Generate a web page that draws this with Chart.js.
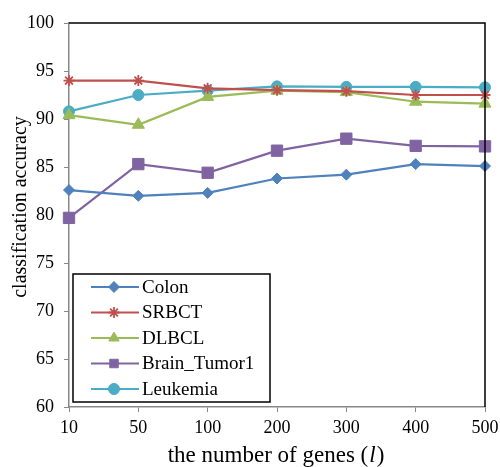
<!DOCTYPE html>
<html>
<head>
<meta charset="utf-8">
<script src="https://cdn.jsdelivr.net/npm/chart.js@4"></script>
<style>
  body { margin: 0; background: #fff; }
  #wrap { width: 500px; height: 467px; }
</style>
</head>
<body>
<div id="wrap"><canvas id="myChart" width="500" height="467"></canvas></div>
<script>
// data
const geneCounts = ['10', '50', '100', '200', '300', '400', '500'];
const seriesNames = ['Colon', 'SRBCT', 'DLBCL', 'Brain_Tumor1', 'Leukemia'];
const colon = [82.6, 82.0, 82.3, 83.8, 84.2, 85.3, 85.1];
const srbct = [94.0, 94.0, 93.2, 93.0, 92.9, 92.5, 92.5];
const dlbcl = [90.4, 89.4, 92.3, 92.95, 92.8, 91.8, 91.6];
const brainTumor1 = [79.7, 85.3, 84.4, 86.7, 87.95, 87.2, 87.15];
const leukemia = [90.8, 92.5, 92.95, 93.4, 93.35, 93.35, 93.3];
const yTicks = [60, 65, 70, 75, 80, 85, 90, 95, 100];

const colors = ['#4F81BD', '#C0504D', '#9BBB59', '#8064A2', '#4BACC6'];
const markers = ['rectRot', 'star', 'triangle', 'rect', 'circle'];
const radii = [5.5, 5.5, 7, 8, 5.5];
const allValues = [colon, srbct, dlbcl, brainTumor1, leukemia];

const serif = '"Liberation Serif", "Times New Roman", serif';

const datasets = seriesNames.map((name, i) => ({
  label: name,
  data: allValues[i],
  borderColor: colors[i],
  backgroundColor: colors[i],
  borderWidth: 2.2,
  pointStyle: markers[i],
  pointRadius: radii[i],
  pointBorderWidth: i === 1 ? 1.8 : 1,
  pointBorderColor: colors[i],
  pointBackgroundColor: colors[i],
  tension: 0
}));

// frame, axis titles and the boxed legend
const extras = {
  id: 'extras',
  afterDraw(chart) {
    const ctx = chart.ctx;
    const a = chart.chartArea;
    ctx.save();
    // black top and right border
    ctx.strokeStyle = '#000';
    ctx.lineWidth = 1.5;
    ctx.beginPath();
    ctx.moveTo(a.left, a.top);
    ctx.lineTo(a.right, a.top);
    ctx.lineTo(a.right, a.bottom);
    ctx.stroke();

    // y title
    ctx.fillStyle = '#000';
    ctx.font = '20px ' + serif;
    ctx.textAlign = 'center';
    ctx.textBaseline = 'middle';
    ctx.save();
    ctx.translate(21, 207);
    ctx.rotate(-Math.PI / 2);
    ctx.fillText('classification accuracy', 0, 0);
    ctx.restore();

    // x title with italic l
    const p1 = 'the number of genes (';
    const p2 = 'l';
    const p3 = ')';
    const fs = '23px ';
    ctx.font = fs + serif;
    const w1 = ctx.measureText(p1).width;
    const w3 = ctx.measureText(p3).width;
    ctx.font = 'italic ' + fs + serif;
    const w2 = ctx.measureText(p2).width;
    let x = 276 - (w1 + w2 + w3 + 2) / 2;
    const y = 456;
    ctx.textAlign = 'left';
    ctx.font = fs + serif;
    ctx.fillText(p1, x, y);
    x += w1 + 1;
    ctx.font = 'italic ' + fs + serif;
    ctx.fillText(p2, x, y);
    x += w2 + 1;
    ctx.font = fs + serif;
    ctx.fillText(p3, x, y);

    // legend box
    const bx = 73, by = 274, bw = 197, bh = 128;
    ctx.fillStyle = '#fff';
    ctx.fillRect(bx, by, bw, bh);
    ctx.strokeStyle = '#000';
    ctx.lineWidth = 1.5;
    ctx.strokeRect(bx, by, bw, bh);
    ctx.font = '19px ' + serif;
    ctx.textBaseline = 'middle';
    chart.data.datasets.forEach((ds, i) => {
      const ly = 287 + i * 25.5;
      ctx.strokeStyle = ds.borderColor;
      ctx.lineWidth = 2.2;
      ctx.beginPath();
      ctx.moveTo(91, ly);
      ctx.lineTo(139, ly);
      ctx.stroke();
      ctx.lineWidth = ds.pointBorderWidth;
      ctx.fillStyle = ds.backgroundColor;
      Chart.helpers.drawPoint(ctx, {
        pointStyle: ds.pointStyle,
        radius: Math.min(ds.pointRadius, 6),
        borderWidth: ds.pointBorderWidth,
        rotation: 0
      }, 114, ly);
      ctx.fillStyle = '#000';
      ctx.fillText(ds.label, 142, ly + 1);
    });
    ctx.restore();
  }
};

const ctx = document.getElementById('myChart').getContext('2d');
new Chart(ctx, {
  type: 'line',
  data: { labels: geneCounts, datasets: datasets },
  options: {
    responsive: false,
    animation: false,
    layout: { padding: { top: 23, right: 15, left: 0, bottom: 0 } },
    plugins: {
      legend: { display: false },
      tooltip: { enabled: false }
    },
    scales: {
      x: {
        offset: false,
        grid: {
          display: true,
          drawOnChartArea: false,
          drawTicks: true,
          tickLength: 5,
          color: '#888'
        },
        border: { color: '#888', width: 1.5 },
        ticks: {
          color: '#000',
          font: { family: serif, size: 18 },
          padding: 5,
          maxRotation: 0,
          autoSkip: false
        },
        afterFit(scale) {
          scale.height = 60;
          scale.paddingLeft = 0;
          scale.paddingRight = 0;
        }
      },
      y: {
        min: 60,
        max: 100,
        afterBuildTicks(scale) { scale.ticks = yTicks.map(v => ({ value: v })); },
        grid: {
          display: true,
          drawOnChartArea: false,
          drawTicks: true,
          tickLength: 5,
          color: '#888'
        },
        border: { color: '#888', width: 1.5 },
        ticks: {
          color: '#000',
          font: { family: serif, size: 18 },
          padding: 10
        },
        afterFit(scale) {
          scale.width = 69;
          scale.paddingTop = 0;
          scale.paddingBottom = 0;
        }
      }
    }
  },
  plugins: [extras]
});
</script>
</body>
</html>
